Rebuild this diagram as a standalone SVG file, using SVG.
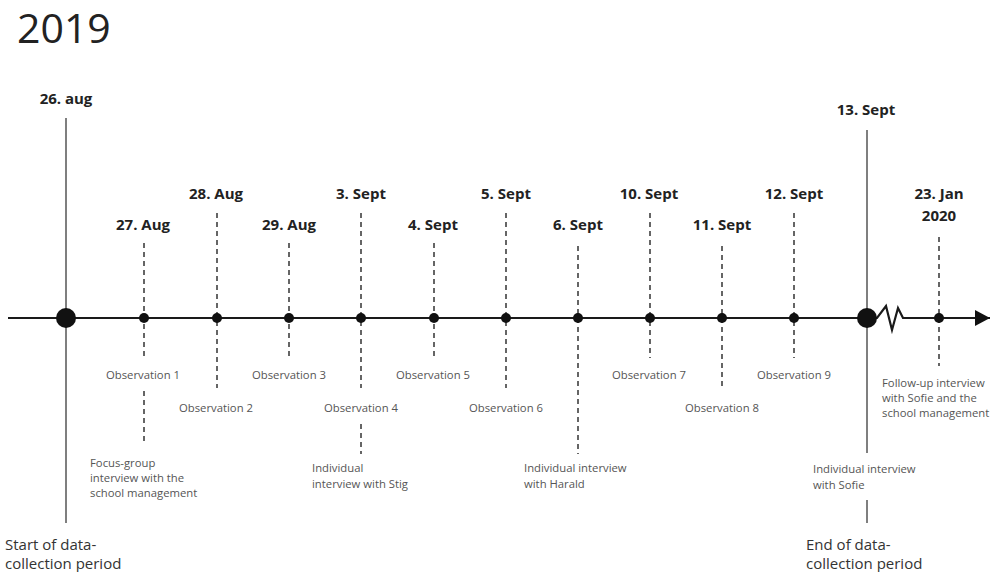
<svg xmlns="http://www.w3.org/2000/svg" width="992" height="572" viewBox="0 0 992 572">
  <style>
    .title { font-family: "Open Sans", "Liberation Sans", sans-serif; font-size: 41px; fill: #222; }
    .date { font-family: "Open Sans", "Liberation Sans", sans-serif; font-size: 15px; font-weight: bold; fill: #222; text-anchor: middle; }
    .obs { font-family: "Open Sans", "Liberation Sans", sans-serif; font-size: 11.3px; fill: #555; text-anchor: middle; }
    .note { font-family: "Open Sans", "Liberation Sans", sans-serif; font-size: 11.3px; fill: #555; }
    .period { font-family: "Open Sans", "Liberation Sans", sans-serif; font-size: 15px; fill: #333; }
    .dash { stroke: #333; stroke-width: 1.5; stroke-dasharray: 5 4; fill: none; }
    .solid { stroke: #555; stroke-width: 1.5; fill: none; }
    .axis { stroke: #1a1a1a; stroke-width: 2.2; fill: none; }
    .dot { fill: #111; }
  </style>
  <defs>
    <marker id="arrow" viewBox="0 0 15 16" refX="15" refY="8" markerWidth="15" markerHeight="16" markerUnits="userSpaceOnUse" orient="auto">
      <path d="M0,0 L15,8 L0,16 Z" fill="#111"/>
    </marker>
  </defs>

  <text class="title" x="17" y="43">2019</text>

  <!-- time axis with break before 2020 -->
  <g id="connectors">
    <path class="axis" d="M8,318 H877 L886,306 L892,330 L898,308 L903,318 H990" marker-end="url(#arrow)"/>
  </g>

  <!-- start of data collection -->
  <g id="start-26-aug">
    <line class="solid" x1="66" y1="118" x2="66" y2="523"/>
    <circle class="dot" cx="66" cy="318" r="10"/>
    <text class="date" x="66" y="104">26. aug</text>
    <text class="period" x="5" y="550">Start of data-</text>
    <text class="period" x="5" y="569">collection period</text>
  </g>

  <g id="aug-27">
    <line class="dash" x1="144" y1="243" x2="144" y2="358"/>
    <line class="dash" x1="144" y1="391" x2="144" y2="444"/>
    <circle class="dot" cx="144" cy="318" r="5"/>
    <text class="date" x="143" y="230">27. Aug</text>
    <text class="obs" x="143" y="379">Observation 1</text>
    <text class="note" x="90" y="467">Focus-group</text>
    <text class="note" x="90" y="482">interview with the</text>
    <text class="note" x="90" y="497">school management</text>
  </g>

  <g id="aug-28">
    <line class="dash" x1="217" y1="213" x2="217" y2="388"/>
    <circle class="dot" cx="217" cy="318" r="5"/>
    <text class="date" x="216" y="199">28. Aug</text>
    <text class="obs" x="216" y="412">Observation 2</text>
  </g>

  <g id="aug-29">
    <line class="dash" x1="289" y1="243" x2="289" y2="358"/>
    <circle class="dot" cx="289" cy="318" r="5"/>
    <text class="date" x="289" y="230">29. Aug</text>
    <text class="obs" x="289" y="379">Observation 3</text>
  </g>

  <g id="sept-3">
    <line class="dash" x1="361" y1="213" x2="361" y2="388"/>
    <line class="dash" x1="361" y1="424" x2="361" y2="454"/>
    <circle class="dot" cx="361" cy="318" r="5"/>
    <text class="date" x="361" y="199">3. Sept</text>
    <text class="obs" x="361" y="412">Observation 4</text>
    <text class="note" x="312" y="472">Individual</text>
    <text class="note" x="312" y="488">interview with Stig</text>
  </g>

  <g id="sept-4">
    <line class="dash" x1="434" y1="243" x2="434" y2="358"/>
    <circle class="dot" cx="434" cy="318" r="5"/>
    <text class="date" x="433" y="230">4. Sept</text>
    <text class="obs" x="433" y="379">Observation 5</text>
  </g>

  <g id="sept-5">
    <line class="dash" x1="506" y1="213" x2="506" y2="388"/>
    <circle class="dot" cx="506" cy="318" r="5"/>
    <text class="date" x="506" y="199">5. Sept</text>
    <text class="obs" x="506" y="412">Observation 6</text>
  </g>

  <g id="sept-6">
    <line class="dash" x1="578" y1="246" x2="578" y2="454"/>
    <circle class="dot" cx="578" cy="318" r="5"/>
    <text class="date" x="578" y="230">6. Sept</text>
    <text class="note" x="524" y="472">Individual interview</text>
    <text class="note" x="524" y="488">with Harald</text>
  </g>

  <g id="sept-10">
    <line class="dash" x1="650" y1="213" x2="650" y2="358"/>
    <circle class="dot" cx="650" cy="318" r="5"/>
    <text class="date" x="649" y="199">10. Sept</text>
    <text class="obs" x="649" y="379">Observation 7</text>
  </g>

  <g id="sept-11">
    <line class="dash" x1="722" y1="246" x2="722" y2="388"/>
    <circle class="dot" cx="722" cy="318" r="5"/>
    <text class="date" x="722" y="230">11. Sept</text>
    <text class="obs" x="722" y="412">Observation 8</text>
  </g>

  <g id="sept-12">
    <line class="dash" x1="794" y1="213" x2="794" y2="358"/>
    <circle class="dot" cx="794" cy="318" r="5"/>
    <text class="date" x="794" y="199">12. Sept</text>
    <text class="obs" x="794" y="379">Observation 9</text>
  </g>

  <!-- end of data collection -->
  <g id="end-13-sept">
    <line class="solid" x1="867" y1="130" x2="867" y2="453"/>
    <line class="solid" x1="867" y1="500" x2="867" y2="523"/>
    <circle class="dot" cx="867" cy="318" r="10"/>
    <text class="date" x="866" y="115">13. Sept</text>
    <text class="note" x="813" y="473">Individual interview</text>
    <text class="note" x="813" y="489">with Sofie</text>
    <text class="period" x="806" y="550">End of data-</text>
    <text class="period" x="806" y="569">collection period</text>
  </g>

  <g id="jan-23-2020">
    <line class="dash" x1="939" y1="237" x2="939" y2="366"/>
    <circle class="dot" cx="939" cy="318" r="5"/>
    <text class="date" x="939" y="199">23. Jan</text>
    <text class="date" x="939" y="221">2020</text>
    <text class="note" x="882" y="387">Follow-up interview</text>
    <text class="note" x="882" y="402">with Sofie and the</text>
    <text class="note" x="882" y="417">school management</text>
  </g>
</svg>
